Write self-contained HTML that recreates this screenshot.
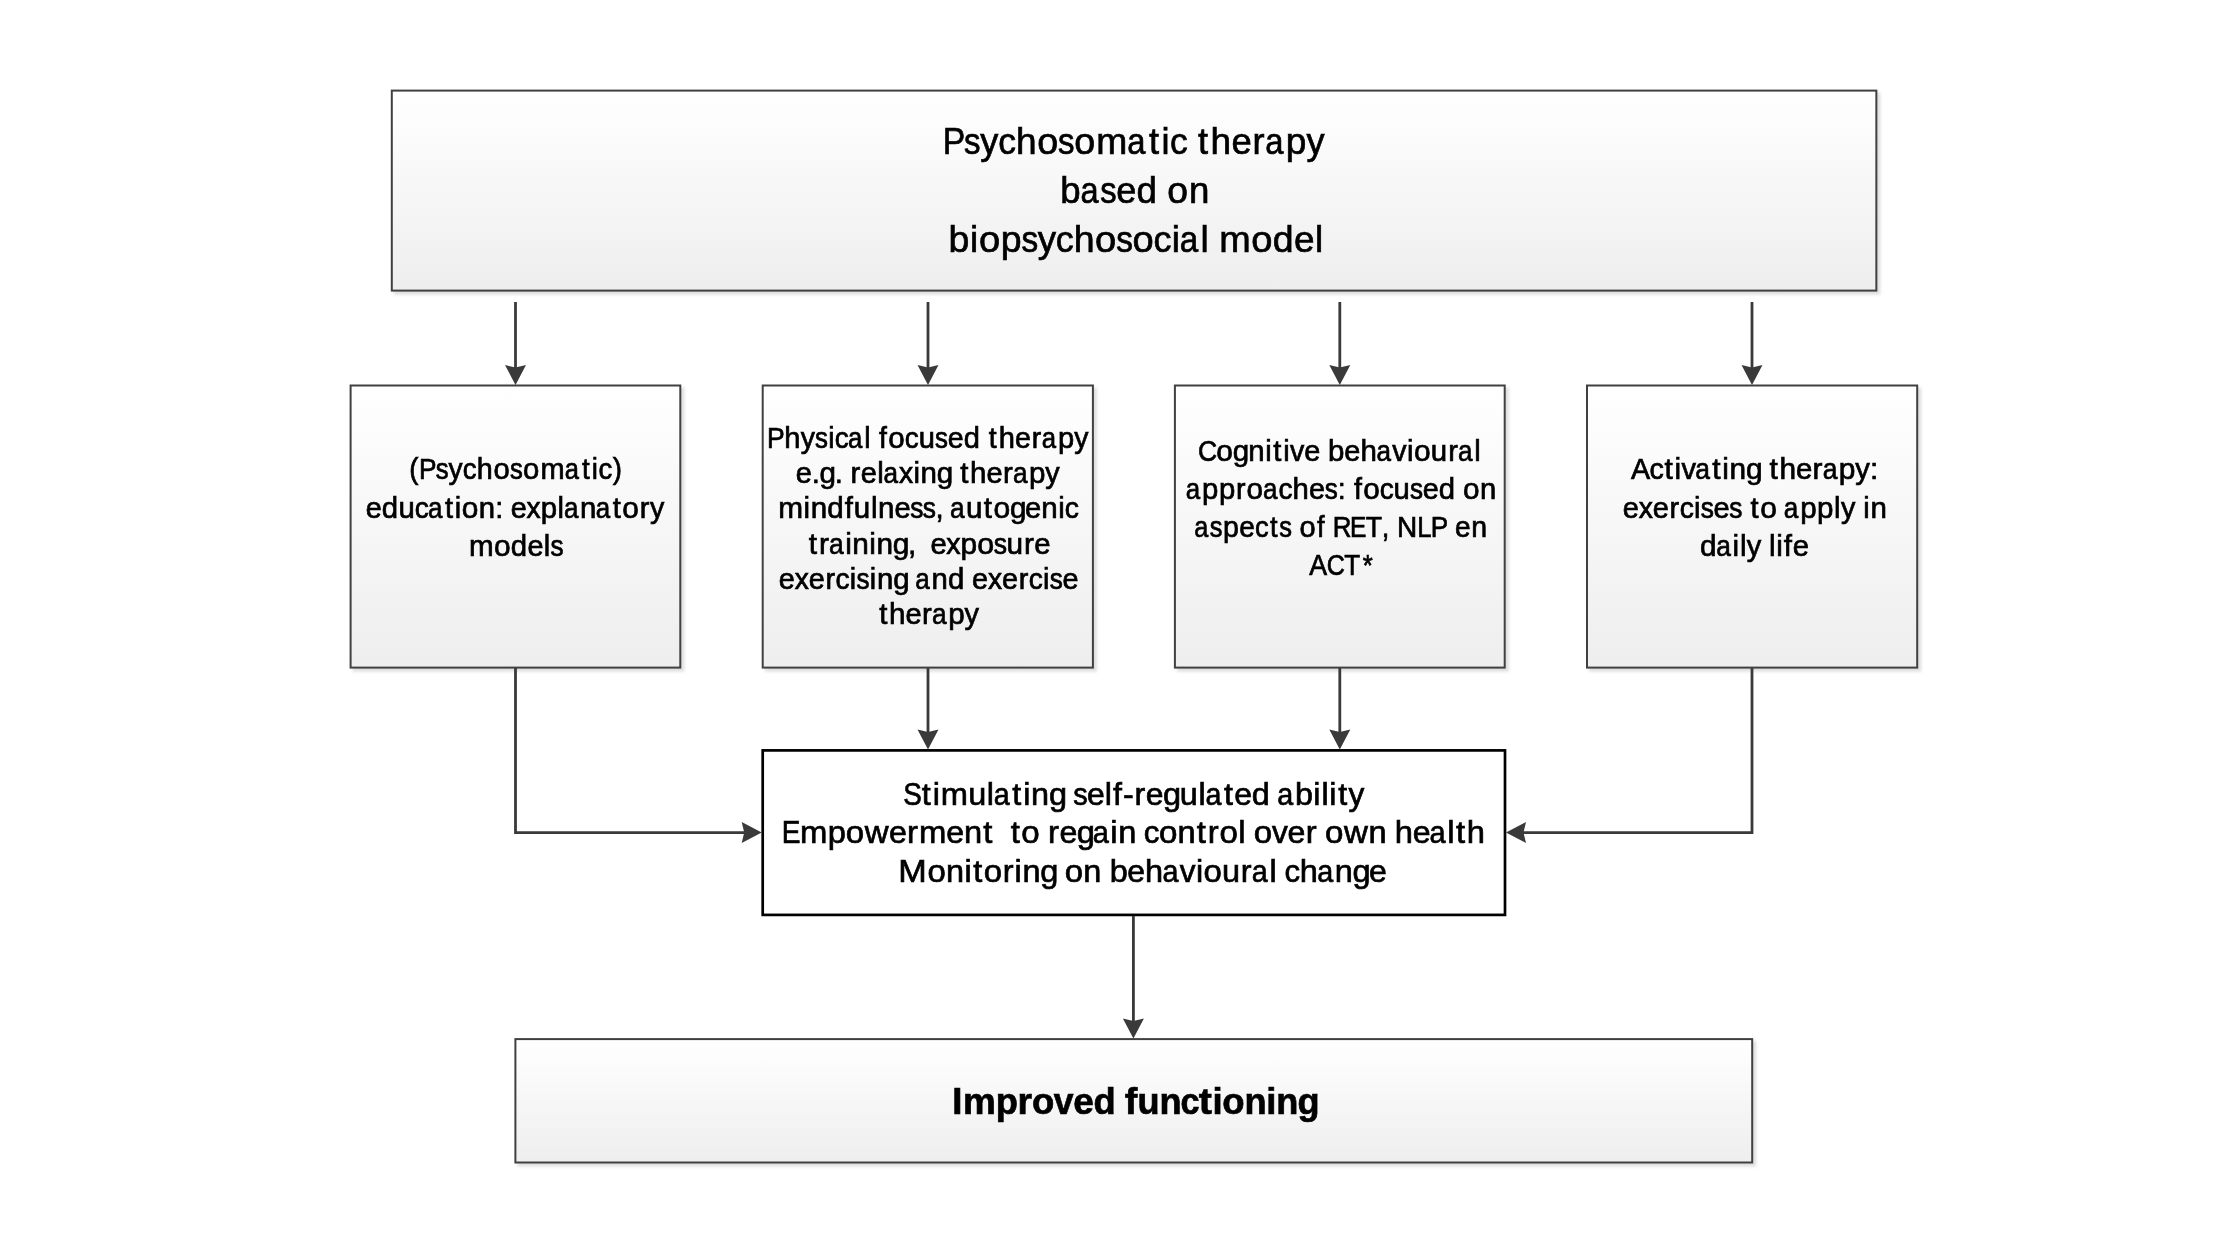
<!DOCTYPE html>
<html><head><meta charset="utf-8"><title>Psychosomatic therapy diagram</title><style>
html,body{margin:0;padding:0;background:#fff;}
body{width:2216px;height:1247px;overflow:hidden;}
svg{display:block;will-change:transform;}
text{font-family:"Liberation Sans",sans-serif;fill:#000;font-kerning:none;font-variant-ligatures:none;white-space:pre;stroke:#000;stroke-width:0.70px;}
</style></head><body>
<svg width="2216" height="1247" viewBox="0 0 2216 1247">
<defs>
<linearGradient id="g" x1="0" y1="0" x2="0" y2="1">
<stop offset="0" stop-color="#ffffff"/><stop offset="1" stop-color="#eeeeee"/>
</linearGradient>
<filter id="blur" x="-5%" y="-5%" width="110%" height="110%"><feGaussianBlur stdDeviation="1.5"/></filter>
</defs>
<rect x="393.80" y="92.60" width="1486.55" height="202.00" fill="#000" fill-opacity="0.13" filter="url(#blur)"/>
<rect x="391.80" y="90.60" width="1484.55" height="200.00" fill="url(#g)" stroke="#404040" stroke-width="2.00"/>
<rect x="352.60" y="387.50" width="331.70" height="284.10" fill="#000" fill-opacity="0.13" filter="url(#blur)"/>
<rect x="350.60" y="385.50" width="329.70" height="282.10" fill="url(#g)" stroke="#404040" stroke-width="2.00"/>
<rect x="764.70" y="387.50" width="332.20" height="284.10" fill="#000" fill-opacity="0.13" filter="url(#blur)"/>
<rect x="762.70" y="385.50" width="330.20" height="282.10" fill="url(#g)" stroke="#404040" stroke-width="2.00"/>
<rect x="1176.90" y="387.50" width="331.80" height="284.10" fill="#000" fill-opacity="0.13" filter="url(#blur)"/>
<rect x="1174.90" y="385.50" width="329.80" height="282.10" fill="url(#g)" stroke="#404040" stroke-width="2.00"/>
<rect x="1589.00" y="387.50" width="332.20" height="284.10" fill="#000" fill-opacity="0.13" filter="url(#blur)"/>
<rect x="1587.00" y="385.50" width="330.20" height="282.10" fill="url(#g)" stroke="#404040" stroke-width="2.00"/>
<rect x="762.70" y="750.40" width="742.30" height="164.50" fill="#ffffff" stroke="#000000" stroke-width="2.70"/>
<rect x="517.40" y="1041.10" width="1238.80" height="125.40" fill="#000" fill-opacity="0.13" filter="url(#blur)"/>
<rect x="515.40" y="1039.10" width="1236.80" height="123.40" fill="url(#g)" stroke="#404040" stroke-width="2.00"/>
<path d="M515.50 302.00 L515.50 368.00" fill="none" stroke="#3a3a3a" stroke-width="2.8"/>
<polygon points="515.50,385.00 505.00,365.00 515.50,367.50 526.00,365.00" fill="#3a3a3a"/>
<path d="M928.00 302.00 L928.00 368.00" fill="none" stroke="#3a3a3a" stroke-width="2.8"/>
<polygon points="928.00,385.00 917.50,365.00 928.00,367.50 938.50,365.00" fill="#3a3a3a"/>
<path d="M1339.80 302.00 L1339.80 368.00" fill="none" stroke="#3a3a3a" stroke-width="2.8"/>
<polygon points="1339.80,385.00 1329.30,365.00 1339.80,367.50 1350.30,365.00" fill="#3a3a3a"/>
<path d="M1752.00 302.00 L1752.00 368.00" fill="none" stroke="#3a3a3a" stroke-width="2.8"/>
<polygon points="1752.00,385.00 1741.50,365.00 1752.00,367.50 1762.50,365.00" fill="#3a3a3a"/>
<path d="M928.00 668.00 L928.00 732.50" fill="none" stroke="#3a3a3a" stroke-width="2.8"/>
<polygon points="928.00,749.50 917.50,729.50 928.00,732.00 938.50,729.50" fill="#3a3a3a"/>
<path d="M1339.80 668.00 L1339.80 732.50" fill="none" stroke="#3a3a3a" stroke-width="2.8"/>
<polygon points="1339.80,749.50 1329.30,729.50 1339.80,732.00 1350.30,729.50" fill="#3a3a3a"/>
<path d="M515.50 668.00 L515.50 832.60 L744.70 832.60" fill="none" stroke="#3a3a3a" stroke-width="2.8"/>
<polygon points="761.70,832.60 741.70,822.10 744.20,832.60 741.70,843.10" fill="#3a3a3a"/>
<path d="M1752.00 668.00 L1752.00 832.60 L1523.00 832.60" fill="none" stroke="#3a3a3a" stroke-width="2.8"/>
<polygon points="1506.00,832.60 1526.00,822.10 1523.50,832.60 1526.00,843.10" fill="#3a3a3a"/>
<path d="M1133.40 916.00 L1133.40 1021.50" fill="none" stroke="#3a3a3a" stroke-width="2.8"/>
<polygon points="1133.40,1038.50 1122.90,1018.50 1133.40,1021.00 1143.90,1018.50" fill="#3a3a3a"/>
<text y="154.30" font-size="37.50"><tspan x="942.83" textLength="22.52" lengthAdjust="spacingAndGlyphs">P</tspan><tspan x="964.07" textLength="16.49" lengthAdjust="spacingAndGlyphs">s</tspan><tspan x="980.20" textLength="18.06" lengthAdjust="spacingAndGlyphs">y</tspan><tspan x="998.15" textLength="17.74" lengthAdjust="spacingAndGlyphs">c</tspan><tspan x="1016.03" textLength="20.60" lengthAdjust="spacingAndGlyphs">h</tspan><tspan x="1037.13" textLength="20.89" lengthAdjust="spacingAndGlyphs">o</tspan><tspan x="1058.10" textLength="16.49" lengthAdjust="spacingAndGlyphs">s</tspan><tspan x="1074.37" textLength="20.89" lengthAdjust="spacingAndGlyphs">o</tspan><tspan x="1096.33" textLength="31.04" lengthAdjust="spacingAndGlyphs">m</tspan><tspan x="1127.37" textLength="18.24" lengthAdjust="spacingAndGlyphs">a</tspan><tspan x="1148.92" textLength="10.06" lengthAdjust="spacingAndGlyphs">t</tspan><tspan x="1161.51" textLength="8.04" lengthAdjust="spacingAndGlyphs">i</tspan><tspan x="1169.91" textLength="17.74" lengthAdjust="spacingAndGlyphs">c</tspan> <tspan x="1198.11" textLength="10.06" lengthAdjust="spacingAndGlyphs">t</tspan><tspan x="1210.54" textLength="20.60" lengthAdjust="spacingAndGlyphs">h</tspan><tspan x="1231.39" textLength="20.27" lengthAdjust="spacingAndGlyphs">e</tspan><tspan x="1252.61" textLength="12.05" lengthAdjust="spacingAndGlyphs">r</tspan><tspan x="1265.18" textLength="18.24" lengthAdjust="spacingAndGlyphs">a</tspan><tspan x="1285.72" textLength="20.60" lengthAdjust="spacingAndGlyphs">p</tspan><tspan x="1306.53" textLength="18.06" lengthAdjust="spacingAndGlyphs">y</tspan></text>
<text y="203.10" font-size="37.50"><tspan x="1060.31" textLength="20.38" lengthAdjust="spacingAndGlyphs">b</tspan><tspan x="1080.47" textLength="18.08" lengthAdjust="spacingAndGlyphs">a</tspan><tspan x="1100.25" textLength="16.35" lengthAdjust="spacingAndGlyphs">s</tspan><tspan x="1116.31" textLength="20.09" lengthAdjust="spacingAndGlyphs">e</tspan><tspan x="1136.61" textLength="20.38" lengthAdjust="spacingAndGlyphs">d</tspan> <tspan x="1167.28" textLength="20.71" lengthAdjust="spacingAndGlyphs">o</tspan><tspan x="1188.93" textLength="20.39" lengthAdjust="spacingAndGlyphs">n</tspan></text>
<text y="252.30" font-size="37.50"><tspan x="948.61" textLength="20.83" lengthAdjust="spacingAndGlyphs">b</tspan><tspan x="970.02" textLength="8.20" lengthAdjust="spacingAndGlyphs">i</tspan><tspan x="978.99" textLength="21.16" lengthAdjust="spacingAndGlyphs">o</tspan><tspan x="1000.86" textLength="20.87" lengthAdjust="spacingAndGlyphs">p</tspan><tspan x="1021.53" textLength="16.71" lengthAdjust="spacingAndGlyphs">s</tspan><tspan x="1037.76" textLength="18.29" lengthAdjust="spacingAndGlyphs">y</tspan><tspan x="1055.82" textLength="17.96" lengthAdjust="spacingAndGlyphs">c</tspan><tspan x="1073.80" textLength="20.87" lengthAdjust="spacingAndGlyphs">h</tspan><tspan x="1095.03" textLength="21.16" lengthAdjust="spacingAndGlyphs">o</tspan><tspan x="1116.13" textLength="16.71" lengthAdjust="spacingAndGlyphs">s</tspan><tspan x="1132.49" textLength="21.16" lengthAdjust="spacingAndGlyphs">o</tspan><tspan x="1153.46" textLength="17.96" lengthAdjust="spacingAndGlyphs">c</tspan><tspan x="1171.63" textLength="8.20" lengthAdjust="spacingAndGlyphs">i</tspan><tspan x="1179.84" textLength="18.48" lengthAdjust="spacingAndGlyphs">a</tspan><tspan x="1200.54" textLength="8.20" lengthAdjust="spacingAndGlyphs">l</tspan> <tspan x="1219.27" textLength="31.45" lengthAdjust="spacingAndGlyphs">m</tspan><tspan x="1251.31" textLength="21.16" lengthAdjust="spacingAndGlyphs">o</tspan><tspan x="1272.67" textLength="20.83" lengthAdjust="spacingAndGlyphs">d</tspan><tspan x="1294.00" textLength="20.53" lengthAdjust="spacingAndGlyphs">e</tspan><tspan x="1314.94" textLength="8.20" lengthAdjust="spacingAndGlyphs">l</tspan></text>
<text y="479.10" font-size="29.60"><tspan x="409.30" textLength="9.21" lengthAdjust="spacingAndGlyphs">(</tspan><tspan x="418.96" textLength="17.51" lengthAdjust="spacingAndGlyphs">P</tspan><tspan x="435.71" textLength="12.82" lengthAdjust="spacingAndGlyphs">s</tspan><tspan x="448.48" textLength="14.03" lengthAdjust="spacingAndGlyphs">y</tspan><tspan x="462.67" textLength="13.78" lengthAdjust="spacingAndGlyphs">c</tspan><tspan x="476.82" textLength="16.01" lengthAdjust="spacingAndGlyphs">h</tspan><tspan x="493.51" textLength="16.24" lengthAdjust="spacingAndGlyphs">o</tspan><tspan x="510.05" textLength="12.82" lengthAdjust="spacingAndGlyphs">s</tspan><tspan x="522.95" textLength="16.24" lengthAdjust="spacingAndGlyphs">o</tspan><tspan x="540.38" textLength="24.13" lengthAdjust="spacingAndGlyphs">m</tspan><tspan x="564.84" textLength="14.18" lengthAdjust="spacingAndGlyphs">a</tspan><tspan x="581.88" textLength="7.68" lengthAdjust="spacingAndGlyphs">t</tspan><tspan x="591.81" textLength="6.14" lengthAdjust="spacingAndGlyphs">i</tspan><tspan x="598.46" textLength="13.78" lengthAdjust="spacingAndGlyphs">c</tspan><tspan x="612.79" textLength="9.21" lengthAdjust="spacingAndGlyphs">)</tspan></text>
<text y="517.90" font-size="29.60"><tspan x="365.85" textLength="16.06" lengthAdjust="spacingAndGlyphs">e</tspan><tspan x="381.73" textLength="16.29" lengthAdjust="spacingAndGlyphs">d</tspan><tspan x="398.54" textLength="16.30" lengthAdjust="spacingAndGlyphs">u</tspan><tspan x="414.83" textLength="14.05" lengthAdjust="spacingAndGlyphs">c</tspan><tspan x="428.08" textLength="14.45" lengthAdjust="spacingAndGlyphs">a</tspan><tspan x="444.96" textLength="8.06" lengthAdjust="spacingAndGlyphs">t</tspan><tspan x="454.84" textLength="6.44" lengthAdjust="spacingAndGlyphs">i</tspan><tspan x="461.83" textLength="16.56" lengthAdjust="spacingAndGlyphs">o</tspan><tspan x="478.78" textLength="16.30" lengthAdjust="spacingAndGlyphs">n</tspan><tspan x="495.33" textLength="8.06" lengthAdjust="spacingAndGlyphs">:</tspan> <tspan x="510.77" textLength="16.06" lengthAdjust="spacingAndGlyphs">e</tspan><tspan x="526.51" textLength="14.07" lengthAdjust="spacingAndGlyphs">x</tspan><tspan x="540.81" textLength="16.32" lengthAdjust="spacingAndGlyphs">p</tspan><tspan x="557.55" textLength="6.44" lengthAdjust="spacingAndGlyphs">l</tspan><tspan x="563.93" textLength="14.45" lengthAdjust="spacingAndGlyphs">a</tspan><tspan x="579.93" textLength="16.30" lengthAdjust="spacingAndGlyphs">n</tspan><tspan x="595.84" textLength="14.45" lengthAdjust="spacingAndGlyphs">a</tspan><tspan x="612.72" textLength="8.06" lengthAdjust="spacingAndGlyphs">t</tspan><tspan x="622.30" textLength="16.56" lengthAdjust="spacingAndGlyphs">o</tspan><tspan x="639.65" textLength="9.66" lengthAdjust="spacingAndGlyphs">r</tspan><tspan x="650.04" textLength="14.31" lengthAdjust="spacingAndGlyphs">y</tspan></text>
<text y="556.20" font-size="29.60"><tspan x="468.91" textLength="24.65" lengthAdjust="spacingAndGlyphs">m</tspan><tspan x="494.00" textLength="16.59" lengthAdjust="spacingAndGlyphs">o</tspan><tspan x="510.74" textLength="16.33" lengthAdjust="spacingAndGlyphs">d</tspan><tspan x="527.45" textLength="16.09" lengthAdjust="spacingAndGlyphs">e</tspan><tspan x="543.85" textLength="6.43" lengthAdjust="spacingAndGlyphs">l</tspan><tspan x="550.55" textLength="13.09" lengthAdjust="spacingAndGlyphs">s</tspan></text>
<text y="447.76" font-size="29.60"><tspan x="767.07" textLength="17.69" lengthAdjust="spacingAndGlyphs">P</tspan><tspan x="784.28" textLength="16.18" lengthAdjust="spacingAndGlyphs">h</tspan><tspan x="800.79" textLength="14.18" lengthAdjust="spacingAndGlyphs">y</tspan><tspan x="815.03" textLength="12.95" lengthAdjust="spacingAndGlyphs">s</tspan><tspan x="828.13" textLength="6.30" lengthAdjust="spacingAndGlyphs">i</tspan><tspan x="834.75" textLength="13.93" lengthAdjust="spacingAndGlyphs">c</tspan><tspan x="848.08" textLength="14.33" lengthAdjust="spacingAndGlyphs">a</tspan><tspan x="864.28" textLength="6.30" lengthAdjust="spacingAndGlyphs">l</tspan> <tspan x="879.11" textLength="7.88" lengthAdjust="spacingAndGlyphs">f</tspan><tspan x="888.28" textLength="16.41" lengthAdjust="spacingAndGlyphs">o</tspan><tspan x="904.70" textLength="13.93" lengthAdjust="spacingAndGlyphs">c</tspan><tspan x="918.63" textLength="16.16" lengthAdjust="spacingAndGlyphs">u</tspan><tspan x="935.08" textLength="12.95" lengthAdjust="spacingAndGlyphs">s</tspan><tspan x="947.71" textLength="15.92" lengthAdjust="spacingAndGlyphs">e</tspan><tspan x="963.67" textLength="16.15" lengthAdjust="spacingAndGlyphs">d</tspan> <tspan x="988.86" textLength="7.88" lengthAdjust="spacingAndGlyphs">t</tspan><tspan x="998.65" textLength="16.18" lengthAdjust="spacingAndGlyphs">h</tspan><tspan x="1015.08" textLength="15.92" lengthAdjust="spacingAndGlyphs">e</tspan><tspan x="1031.80" textLength="9.44" lengthAdjust="spacingAndGlyphs">r</tspan><tspan x="1041.70" textLength="14.33" lengthAdjust="spacingAndGlyphs">a</tspan><tspan x="1057.88" textLength="16.18" lengthAdjust="spacingAndGlyphs">p</tspan><tspan x="1074.27" textLength="14.18" lengthAdjust="spacingAndGlyphs">y</tspan></text>
<text y="483.09" font-size="29.60"><tspan x="795.80" textLength="16.16" lengthAdjust="spacingAndGlyphs">e</tspan><tspan x="811.66" textLength="8.15" lengthAdjust="spacingAndGlyphs">.</tspan><tspan x="819.57" textLength="16.45" lengthAdjust="spacingAndGlyphs">g</tspan><tspan x="834.64" textLength="8.15" lengthAdjust="spacingAndGlyphs">.</tspan> <tspan x="850.55" textLength="9.77" lengthAdjust="spacingAndGlyphs">r</tspan><tspan x="860.86" textLength="16.16" lengthAdjust="spacingAndGlyphs">e</tspan><tspan x="877.19" textLength="6.52" lengthAdjust="spacingAndGlyphs">l</tspan><tspan x="883.56" textLength="14.54" lengthAdjust="spacingAndGlyphs">a</tspan><tspan x="899.12" textLength="14.15" lengthAdjust="spacingAndGlyphs">x</tspan><tspan x="913.45" textLength="6.52" lengthAdjust="spacingAndGlyphs">i</tspan><tspan x="920.62" textLength="16.40" lengthAdjust="spacingAndGlyphs">n</tspan><tspan x="936.87" textLength="16.45" lengthAdjust="spacingAndGlyphs">g</tspan> <tspan x="960.32" textLength="8.15" lengthAdjust="spacingAndGlyphs">t</tspan><tspan x="970.06" textLength="16.42" lengthAdjust="spacingAndGlyphs">h</tspan><tspan x="986.40" textLength="16.16" lengthAdjust="spacingAndGlyphs">e</tspan><tspan x="1002.97" textLength="9.77" lengthAdjust="spacingAndGlyphs">r</tspan><tspan x="1012.88" textLength="14.54" lengthAdjust="spacingAndGlyphs">a</tspan><tspan x="1028.97" textLength="16.42" lengthAdjust="spacingAndGlyphs">p</tspan><tspan x="1045.30" textLength="14.39" lengthAdjust="spacingAndGlyphs">y</tspan></text>
<text y="518.42" font-size="29.60"><tspan x="778.17" textLength="24.80" lengthAdjust="spacingAndGlyphs">m</tspan><tspan x="803.58" textLength="6.52" lengthAdjust="spacingAndGlyphs">i</tspan><tspan x="810.77" textLength="16.43" lengthAdjust="spacingAndGlyphs">n</tspan><tspan x="827.23" textLength="16.43" lengthAdjust="spacingAndGlyphs">d</tspan><tspan x="844.67" textLength="8.16" lengthAdjust="spacingAndGlyphs">f</tspan><tspan x="853.84" textLength="16.43" lengthAdjust="spacingAndGlyphs">u</tspan><tspan x="870.92" textLength="6.52" lengthAdjust="spacingAndGlyphs">l</tspan><tspan x="878.11" textLength="16.43" lengthAdjust="spacingAndGlyphs">n</tspan><tspan x="894.49" textLength="16.19" lengthAdjust="spacingAndGlyphs">e</tspan><tspan x="910.26" textLength="13.18" lengthAdjust="spacingAndGlyphs">s</tspan><tspan x="922.73" textLength="13.18" lengthAdjust="spacingAndGlyphs">s</tspan><tspan x="935.38" textLength="8.16" lengthAdjust="spacingAndGlyphs">,</tspan> <tspan x="950.08" textLength="14.57" lengthAdjust="spacingAndGlyphs">a</tspan><tspan x="965.96" textLength="16.43" lengthAdjust="spacingAndGlyphs">u</tspan><tspan x="983.79" textLength="8.16" lengthAdjust="spacingAndGlyphs">t</tspan><tspan x="993.40" textLength="16.69" lengthAdjust="spacingAndGlyphs">o</tspan><tspan x="1009.98" textLength="16.49" lengthAdjust="spacingAndGlyphs">g</tspan><tspan x="1025.05" textLength="16.19" lengthAdjust="spacingAndGlyphs">e</tspan><tspan x="1041.31" textLength="16.43" lengthAdjust="spacingAndGlyphs">n</tspan><tspan x="1058.19" textLength="6.52" lengthAdjust="spacingAndGlyphs">i</tspan><tspan x="1064.79" textLength="14.17" lengthAdjust="spacingAndGlyphs">c</tspan></text>
<text y="553.75" font-size="29.60"><tspan x="808.75" textLength="8.28" lengthAdjust="spacingAndGlyphs">t</tspan><tspan x="818.96" textLength="9.92" lengthAdjust="spacingAndGlyphs">r</tspan><tspan x="828.94" textLength="14.70" lengthAdjust="spacingAndGlyphs">a</tspan><tspan x="845.18" textLength="6.62" lengthAdjust="spacingAndGlyphs">i</tspan><tspan x="852.38" textLength="16.57" lengthAdjust="spacingAndGlyphs">n</tspan><tspan x="869.31" textLength="6.62" lengthAdjust="spacingAndGlyphs">i</tspan><tspan x="876.52" textLength="16.57" lengthAdjust="spacingAndGlyphs">n</tspan><tspan x="892.87" textLength="16.63" lengthAdjust="spacingAndGlyphs">g</tspan><tspan x="908.04" textLength="8.28" lengthAdjust="spacingAndGlyphs">,</tspan>  <tspan x="930.41" textLength="16.33" lengthAdjust="spacingAndGlyphs">e</tspan><tspan x="946.26" textLength="14.30" lengthAdjust="spacingAndGlyphs">x</tspan><tspan x="960.63" textLength="16.60" lengthAdjust="spacingAndGlyphs">p</tspan><tspan x="977.15" textLength="16.84" lengthAdjust="spacingAndGlyphs">o</tspan><tspan x="993.73" textLength="13.29" lengthAdjust="spacingAndGlyphs">s</tspan><tspan x="1006.52" textLength="16.57" lengthAdjust="spacingAndGlyphs">u</tspan><tspan x="1023.88" textLength="9.92" lengthAdjust="spacingAndGlyphs">r</tspan><tspan x="1034.27" textLength="16.33" lengthAdjust="spacingAndGlyphs">e</tspan></text>
<text y="589.08" font-size="29.60"><tspan x="778.80" textLength="16.07" lengthAdjust="spacingAndGlyphs">e</tspan><tspan x="794.68" textLength="14.07" lengthAdjust="spacingAndGlyphs">x</tspan><tspan x="808.64" textLength="16.07" lengthAdjust="spacingAndGlyphs">e</tspan><tspan x="825.41" textLength="9.58" lengthAdjust="spacingAndGlyphs">r</tspan><tspan x="835.54" textLength="14.06" lengthAdjust="spacingAndGlyphs">c</tspan><tspan x="849.82" textLength="6.39" lengthAdjust="spacingAndGlyphs">i</tspan><tspan x="856.56" textLength="13.07" lengthAdjust="spacingAndGlyphs">s</tspan><tspan x="869.72" textLength="6.39" lengthAdjust="spacingAndGlyphs">i</tspan><tspan x="876.97" textLength="16.30" lengthAdjust="spacingAndGlyphs">n</tspan><tspan x="893.37" textLength="16.36" lengthAdjust="spacingAndGlyphs">g</tspan> <tspan x="915.36" textLength="14.46" lengthAdjust="spacingAndGlyphs">a</tspan><tspan x="931.51" textLength="16.30" lengthAdjust="spacingAndGlyphs">n</tspan><tspan x="948.05" textLength="16.30" lengthAdjust="spacingAndGlyphs">d</tspan> <tspan x="972.06" textLength="16.07" lengthAdjust="spacingAndGlyphs">e</tspan><tspan x="987.94" textLength="14.07" lengthAdjust="spacingAndGlyphs">x</tspan><tspan x="1001.90" textLength="16.07" lengthAdjust="spacingAndGlyphs">e</tspan><tspan x="1018.67" textLength="9.58" lengthAdjust="spacingAndGlyphs">r</tspan><tspan x="1028.80" textLength="14.06" lengthAdjust="spacingAndGlyphs">c</tspan><tspan x="1043.08" textLength="6.39" lengthAdjust="spacingAndGlyphs">i</tspan><tspan x="1049.82" textLength="13.07" lengthAdjust="spacingAndGlyphs">s</tspan><tspan x="1062.48" textLength="16.07" lengthAdjust="spacingAndGlyphs">e</tspan></text>
<text y="624.41" font-size="29.60"><tspan x="879.15" textLength="8.15" lengthAdjust="spacingAndGlyphs">t</tspan><tspan x="888.94" textLength="16.47" lengthAdjust="spacingAndGlyphs">h</tspan><tspan x="905.38" textLength="16.20" lengthAdjust="spacingAndGlyphs">e</tspan><tspan x="922.05" textLength="9.77" lengthAdjust="spacingAndGlyphs">r</tspan><tspan x="932.01" textLength="14.58" lengthAdjust="spacingAndGlyphs">a</tspan><tspan x="948.18" textLength="16.46" lengthAdjust="spacingAndGlyphs">p</tspan><tspan x="964.60" textLength="14.43" lengthAdjust="spacingAndGlyphs">y</tspan></text>
<text y="460.80" font-size="29.60"><tspan x="1198.11" textLength="19.17" lengthAdjust="spacingAndGlyphs">C</tspan><tspan x="1216.26" textLength="16.62" lengthAdjust="spacingAndGlyphs">o</tspan><tspan x="1232.82" textLength="16.41" lengthAdjust="spacingAndGlyphs">g</tspan><tspan x="1248.28" textLength="16.36" lengthAdjust="spacingAndGlyphs">n</tspan><tspan x="1265.15" textLength="6.47" lengthAdjust="spacingAndGlyphs">i</tspan><tspan x="1273.23" textLength="8.09" lengthAdjust="spacingAndGlyphs">t</tspan><tspan x="1283.15" textLength="6.47" lengthAdjust="spacingAndGlyphs">i</tspan><tspan x="1290.12" textLength="14.28" lengthAdjust="spacingAndGlyphs">v</tspan><tspan x="1304.37" textLength="16.12" lengthAdjust="spacingAndGlyphs">e</tspan> <tspan x="1327.95" textLength="16.35" lengthAdjust="spacingAndGlyphs">b</tspan><tspan x="1344.20" textLength="16.12" lengthAdjust="spacingAndGlyphs">e</tspan><tspan x="1360.42" textLength="16.39" lengthAdjust="spacingAndGlyphs">h</tspan><tspan x="1376.42" textLength="14.51" lengthAdjust="spacingAndGlyphs">a</tspan><tspan x="1392.25" textLength="14.28" lengthAdjust="spacingAndGlyphs">v</tspan><tspan x="1407.00" textLength="6.47" lengthAdjust="spacingAndGlyphs">i</tspan><tspan x="1414.01" textLength="16.62" lengthAdjust="spacingAndGlyphs">o</tspan><tspan x="1430.83" textLength="16.36" lengthAdjust="spacingAndGlyphs">u</tspan><tspan x="1448.17" textLength="9.69" lengthAdjust="spacingAndGlyphs">r</tspan><tspan x="1458.10" textLength="14.51" lengthAdjust="spacingAndGlyphs">a</tspan><tspan x="1474.29" textLength="6.47" lengthAdjust="spacingAndGlyphs">l</tspan></text>
<text y="498.90" font-size="29.60"><tspan x="1185.87" textLength="14.42" lengthAdjust="spacingAndGlyphs">a</tspan><tspan x="1202.08" textLength="16.29" lengthAdjust="spacingAndGlyphs">p</tspan><tspan x="1218.90" textLength="16.29" lengthAdjust="spacingAndGlyphs">p</tspan><tspan x="1236.07" textLength="9.54" lengthAdjust="spacingAndGlyphs">r</tspan><tspan x="1246.60" textLength="16.52" lengthAdjust="spacingAndGlyphs">o</tspan><tspan x="1262.88" textLength="14.42" lengthAdjust="spacingAndGlyphs">a</tspan><tspan x="1278.39" textLength="14.02" lengthAdjust="spacingAndGlyphs">c</tspan><tspan x="1292.51" textLength="16.29" lengthAdjust="spacingAndGlyphs">h</tspan><tspan x="1308.98" textLength="16.03" lengthAdjust="spacingAndGlyphs">e</tspan><tspan x="1324.78" textLength="13.04" lengthAdjust="spacingAndGlyphs">s</tspan><tspan x="1337.67" textLength="7.96" lengthAdjust="spacingAndGlyphs">:</tspan> <tspan x="1354.00" textLength="7.96" lengthAdjust="spacingAndGlyphs">f</tspan><tspan x="1363.19" textLength="16.52" lengthAdjust="spacingAndGlyphs">o</tspan><tspan x="1379.65" textLength="14.02" lengthAdjust="spacingAndGlyphs">c</tspan><tspan x="1393.61" textLength="16.26" lengthAdjust="spacingAndGlyphs">u</tspan><tspan x="1410.10" textLength="13.04" lengthAdjust="spacingAndGlyphs">s</tspan><tspan x="1422.75" textLength="16.03" lengthAdjust="spacingAndGlyphs">e</tspan><tspan x="1438.76" textLength="16.26" lengthAdjust="spacingAndGlyphs">d</tspan> <tspan x="1462.93" textLength="16.52" lengthAdjust="spacingAndGlyphs">o</tspan><tspan x="1480.01" textLength="16.26" lengthAdjust="spacingAndGlyphs">n</tspan></text>
<text y="537.10" font-size="29.60"><tspan x="1194.16" textLength="14.06" lengthAdjust="spacingAndGlyphs">a</tspan><tspan x="1209.75" textLength="12.72" lengthAdjust="spacingAndGlyphs">s</tspan><tspan x="1222.94" textLength="15.88" lengthAdjust="spacingAndGlyphs">p</tspan><tspan x="1239.28" textLength="15.63" lengthAdjust="spacingAndGlyphs">e</tspan><tspan x="1254.97" textLength="13.67" lengthAdjust="spacingAndGlyphs">c</tspan><tspan x="1270.03" textLength="7.57" lengthAdjust="spacingAndGlyphs">t</tspan><tspan x="1279.32" textLength="12.72" lengthAdjust="spacingAndGlyphs">s</tspan> <tspan x="1299.46" textLength="16.11" lengthAdjust="spacingAndGlyphs">o</tspan><tspan x="1316.93" textLength="7.57" lengthAdjust="spacingAndGlyphs">f</tspan> <tspan x="1332.78" textLength="18.70" lengthAdjust="spacingAndGlyphs">R</tspan><tspan x="1349.97" textLength="16.40" lengthAdjust="spacingAndGlyphs">E</tspan><tspan x="1365.65" textLength="16.34" lengthAdjust="spacingAndGlyphs">T</tspan><tspan x="1381.87" textLength="7.57" lengthAdjust="spacingAndGlyphs">,</tspan> <tspan x="1397.09" textLength="20.20" lengthAdjust="spacingAndGlyphs">N</tspan><tspan x="1417.27" textLength="14.35" lengthAdjust="spacingAndGlyphs">L</tspan><tspan x="1430.86" textLength="17.37" lengthAdjust="spacingAndGlyphs">P</tspan> <tspan x="1454.98" textLength="15.63" lengthAdjust="spacingAndGlyphs">e</tspan><tspan x="1471.31" textLength="15.86" lengthAdjust="spacingAndGlyphs">n</tspan></text>
<text y="575.40" font-size="29.60"><tspan x="1309.18" textLength="17.82" lengthAdjust="spacingAndGlyphs">A</tspan><tspan x="1326.84" textLength="18.12" lengthAdjust="spacingAndGlyphs">C</tspan><tspan x="1344.19" textLength="15.93" lengthAdjust="spacingAndGlyphs">T</tspan><tspan x="1362.87" textLength="10.01" lengthAdjust="spacingAndGlyphs">*</tspan></text>
<text y="479.40" font-size="29.60"><tspan x="1630.98" textLength="19.14" lengthAdjust="spacingAndGlyphs">A</tspan><tspan x="1649.43" textLength="14.32" lengthAdjust="spacingAndGlyphs">c</tspan><tspan x="1664.46" textLength="8.29" lengthAdjust="spacingAndGlyphs">t</tspan><tspan x="1674.45" textLength="6.63" lengthAdjust="spacingAndGlyphs">i</tspan><tspan x="1681.45" textLength="14.49" lengthAdjust="spacingAndGlyphs">v</tspan><tspan x="1695.35" textLength="14.72" lengthAdjust="spacingAndGlyphs">a</tspan><tspan x="1712.37" textLength="8.29" lengthAdjust="spacingAndGlyphs">t</tspan><tspan x="1722.36" textLength="6.63" lengthAdjust="spacingAndGlyphs">i</tspan><tspan x="1729.58" textLength="16.60" lengthAdjust="spacingAndGlyphs">n</tspan><tspan x="1745.97" textLength="16.66" lengthAdjust="spacingAndGlyphs">g</tspan> <tspan x="1769.62" textLength="8.29" lengthAdjust="spacingAndGlyphs">t</tspan><tspan x="1779.44" textLength="16.63" lengthAdjust="spacingAndGlyphs">h</tspan><tspan x="1795.93" textLength="16.36" lengthAdjust="spacingAndGlyphs">e</tspan><tspan x="1812.63" textLength="9.94" lengthAdjust="spacingAndGlyphs">r</tspan><tspan x="1822.64" textLength="14.72" lengthAdjust="spacingAndGlyphs">a</tspan><tspan x="1838.86" textLength="16.63" lengthAdjust="spacingAndGlyphs">p</tspan><tspan x="1855.33" textLength="14.57" lengthAdjust="spacingAndGlyphs">y</tspan><tspan x="1869.98" textLength="8.29" lengthAdjust="spacingAndGlyphs">:</tspan></text>
<text y="517.50" font-size="29.60"><tspan x="1622.78" textLength="16.16" lengthAdjust="spacingAndGlyphs">e</tspan><tspan x="1638.70" textLength="14.15" lengthAdjust="spacingAndGlyphs">x</tspan><tspan x="1652.70" textLength="16.16" lengthAdjust="spacingAndGlyphs">e</tspan><tspan x="1669.50" textLength="9.66" lengthAdjust="spacingAndGlyphs">r</tspan><tspan x="1679.67" textLength="14.14" lengthAdjust="spacingAndGlyphs">c</tspan><tspan x="1693.99" textLength="6.44" lengthAdjust="spacingAndGlyphs">i</tspan><tspan x="1700.75" textLength="13.15" lengthAdjust="spacingAndGlyphs">s</tspan><tspan x="1713.45" textLength="16.16" lengthAdjust="spacingAndGlyphs">e</tspan><tspan x="1729.32" textLength="13.15" lengthAdjust="spacingAndGlyphs">s</tspan> <tspan x="1750.55" textLength="8.06" lengthAdjust="spacingAndGlyphs">t</tspan><tspan x="1760.25" textLength="16.65" lengthAdjust="spacingAndGlyphs">o</tspan> <tspan x="1783.86" textLength="14.54" lengthAdjust="spacingAndGlyphs">a</tspan><tspan x="1800.15" textLength="16.42" lengthAdjust="spacingAndGlyphs">p</tspan><tspan x="1817.04" textLength="16.42" lengthAdjust="spacingAndGlyphs">p</tspan><tspan x="1833.96" textLength="6.44" lengthAdjust="spacingAndGlyphs">l</tspan><tspan x="1840.92" textLength="14.39" lengthAdjust="spacingAndGlyphs">y</tspan> <tspan x="1863.14" textLength="6.44" lengthAdjust="spacingAndGlyphs">i</tspan><tspan x="1870.41" textLength="16.40" lengthAdjust="spacingAndGlyphs">n</tspan></text>
<text y="556.40" font-size="29.60"><tspan x="1700.05" textLength="16.52" lengthAdjust="spacingAndGlyphs">d</tspan><tspan x="1716.35" textLength="14.65" lengthAdjust="spacingAndGlyphs">a</tspan><tspan x="1732.57" textLength="6.58" lengthAdjust="spacingAndGlyphs">i</tspan><tspan x="1739.91" textLength="6.58" lengthAdjust="spacingAndGlyphs">l</tspan><tspan x="1746.83" textLength="14.50" lengthAdjust="spacingAndGlyphs">y</tspan> <tspan x="1768.93" textLength="6.58" lengthAdjust="spacingAndGlyphs">l</tspan><tspan x="1776.25" textLength="6.58" lengthAdjust="spacingAndGlyphs">i</tspan><tspan x="1783.83" textLength="8.23" lengthAdjust="spacingAndGlyphs">f</tspan><tspan x="1792.82" textLength="16.28" lengthAdjust="spacingAndGlyphs">e</tspan></text>
<text y="805.20" font-size="32.20"><tspan x="903.14" textLength="18.59" lengthAdjust="spacingAndGlyphs">S</tspan><tspan x="921.80" textLength="8.96" lengthAdjust="spacingAndGlyphs">t</tspan><tspan x="932.66" textLength="7.17" lengthAdjust="spacingAndGlyphs">i</tspan><tspan x="940.73" textLength="27.18" lengthAdjust="spacingAndGlyphs">m</tspan><tspan x="968.17" textLength="18.01" lengthAdjust="spacingAndGlyphs">u</tspan><tspan x="986.85" textLength="7.17" lengthAdjust="spacingAndGlyphs">l</tspan><tspan x="993.85" textLength="15.97" lengthAdjust="spacingAndGlyphs">a</tspan><tspan x="1012.37" textLength="8.96" lengthAdjust="spacingAndGlyphs">t</tspan><tspan x="1023.23" textLength="7.17" lengthAdjust="spacingAndGlyphs">i</tspan><tspan x="1031.09" textLength="18.01" lengthAdjust="spacingAndGlyphs">n</tspan><tspan x="1048.93" textLength="18.07" lengthAdjust="spacingAndGlyphs">g</tspan> <tspan x="1073.18" textLength="14.44" lengthAdjust="spacingAndGlyphs">s</tspan><tspan x="1086.93" textLength="17.75" lengthAdjust="spacingAndGlyphs">e</tspan><tspan x="1104.85" textLength="7.17" lengthAdjust="spacingAndGlyphs">l</tspan><tspan x="1113.12" textLength="8.96" lengthAdjust="spacingAndGlyphs">f</tspan><tspan x="1123.06" textLength="10.74" lengthAdjust="spacingAndGlyphs">-</tspan><tspan x="1134.44" textLength="10.74" lengthAdjust="spacingAndGlyphs">r</tspan><tspan x="1145.76" textLength="17.75" lengthAdjust="spacingAndGlyphs">e</tspan><tspan x="1163.04" textLength="18.07" lengthAdjust="spacingAndGlyphs">g</tspan><tspan x="1179.73" textLength="18.01" lengthAdjust="spacingAndGlyphs">u</tspan><tspan x="1198.41" textLength="7.17" lengthAdjust="spacingAndGlyphs">l</tspan><tspan x="1205.40" textLength="15.97" lengthAdjust="spacingAndGlyphs">a</tspan><tspan x="1223.92" textLength="8.96" lengthAdjust="spacingAndGlyphs">t</tspan><tspan x="1234.23" textLength="17.75" lengthAdjust="spacingAndGlyphs">e</tspan><tspan x="1251.67" textLength="18.00" lengthAdjust="spacingAndGlyphs">d</tspan> <tspan x="1277.34" textLength="15.97" lengthAdjust="spacingAndGlyphs">a</tspan><tspan x="1295.04" textLength="18.00" lengthAdjust="spacingAndGlyphs">b</tspan><tspan x="1313.37" textLength="7.17" lengthAdjust="spacingAndGlyphs">i</tspan><tspan x="1321.38" textLength="7.17" lengthAdjust="spacingAndGlyphs">l</tspan><tspan x="1329.37" textLength="7.17" lengthAdjust="spacingAndGlyphs">i</tspan><tspan x="1338.19" textLength="8.96" lengthAdjust="spacingAndGlyphs">t</tspan><tspan x="1348.61" textLength="15.81" lengthAdjust="spacingAndGlyphs">y</tspan></text>
<text y="843.30" font-size="32.20"><tspan x="781.82" textLength="18.75" lengthAdjust="spacingAndGlyphs">E</tspan><tspan x="800.11" textLength="27.36" lengthAdjust="spacingAndGlyphs">m</tspan><tspan x="827.85" textLength="18.16" lengthAdjust="spacingAndGlyphs">p</tspan><tspan x="845.86" textLength="18.42" lengthAdjust="spacingAndGlyphs">o</tspan><tspan x="864.77" textLength="23.85" lengthAdjust="spacingAndGlyphs">w</tspan><tspan x="888.94" textLength="17.87" lengthAdjust="spacingAndGlyphs">e</tspan><tspan x="907.08" textLength="10.90" lengthAdjust="spacingAndGlyphs">r</tspan><tspan x="919.01" textLength="27.36" lengthAdjust="spacingAndGlyphs">m</tspan><tspan x="946.25" textLength="17.87" lengthAdjust="spacingAndGlyphs">e</tspan><tspan x="964.00" textLength="18.13" lengthAdjust="spacingAndGlyphs">n</tspan><tspan x="983.26" textLength="9.09" lengthAdjust="spacingAndGlyphs">t</tspan>  <tspan x="1010.69" textLength="9.09" lengthAdjust="spacingAndGlyphs">t</tspan><tspan x="1021.19" textLength="18.42" lengthAdjust="spacingAndGlyphs">o</tspan> <tspan x="1048.05" textLength="10.90" lengthAdjust="spacingAndGlyphs">r</tspan><tspan x="1059.39" textLength="17.87" lengthAdjust="spacingAndGlyphs">e</tspan><tspan x="1076.66" textLength="18.19" lengthAdjust="spacingAndGlyphs">g</tspan><tspan x="1092.68" textLength="16.08" lengthAdjust="spacingAndGlyphs">a</tspan><tspan x="1110.38" textLength="7.27" lengthAdjust="spacingAndGlyphs">i</tspan><tspan x="1118.22" textLength="18.13" lengthAdjust="spacingAndGlyphs">n</tspan> <tspan x="1143.76" textLength="15.63" lengthAdjust="spacingAndGlyphs">c</tspan><tspan x="1158.93" textLength="18.42" lengthAdjust="spacingAndGlyphs">o</tspan><tspan x="1177.51" textLength="18.13" lengthAdjust="spacingAndGlyphs">n</tspan><tspan x="1196.77" textLength="9.09" lengthAdjust="spacingAndGlyphs">t</tspan><tspan x="1207.88" textLength="10.90" lengthAdjust="spacingAndGlyphs">r</tspan><tspan x="1219.42" textLength="18.42" lengthAdjust="spacingAndGlyphs">o</tspan><tspan x="1238.17" textLength="7.27" lengthAdjust="spacingAndGlyphs">l</tspan> <tspan x="1253.67" textLength="18.42" lengthAdjust="spacingAndGlyphs">o</tspan><tspan x="1272.02" textLength="15.82" lengthAdjust="spacingAndGlyphs">v</tspan><tspan x="1287.58" textLength="17.87" lengthAdjust="spacingAndGlyphs">e</tspan><tspan x="1305.72" textLength="10.90" lengthAdjust="spacingAndGlyphs">r</tspan> <tspan x="1325.14" textLength="18.42" lengthAdjust="spacingAndGlyphs">o</tspan><tspan x="1344.05" textLength="23.85" lengthAdjust="spacingAndGlyphs">w</tspan><tspan x="1368.63" textLength="18.13" lengthAdjust="spacingAndGlyphs">n</tspan> <tspan x="1394.78" textLength="18.16" lengthAdjust="spacingAndGlyphs">h</tspan><tspan x="1412.71" textLength="17.87" lengthAdjust="spacingAndGlyphs">e</tspan><tspan x="1429.60" textLength="16.08" lengthAdjust="spacingAndGlyphs">a</tspan><tspan x="1447.31" textLength="7.27" lengthAdjust="spacingAndGlyphs">l</tspan><tspan x="1456.10" textLength="9.09" lengthAdjust="spacingAndGlyphs">t</tspan><tspan x="1466.78" textLength="18.16" lengthAdjust="spacingAndGlyphs">h</tspan></text>
<text y="881.90" font-size="32.20"><tspan x="898.31" textLength="28.46" lengthAdjust="spacingAndGlyphs">M</tspan><tspan x="927.44" textLength="18.32" lengthAdjust="spacingAndGlyphs">o</tspan><tspan x="946.01" textLength="18.04" lengthAdjust="spacingAndGlyphs">n</tspan><tspan x="964.45" textLength="7.20" lengthAdjust="spacingAndGlyphs">i</tspan><tspan x="973.25" textLength="9.01" lengthAdjust="spacingAndGlyphs">t</tspan><tspan x="983.74" textLength="18.32" lengthAdjust="spacingAndGlyphs">o</tspan><tspan x="1002.72" textLength="10.79" lengthAdjust="spacingAndGlyphs">r</tspan><tspan x="1014.59" textLength="7.20" lengthAdjust="spacingAndGlyphs">i</tspan><tspan x="1022.44" textLength="18.04" lengthAdjust="spacingAndGlyphs">n</tspan><tspan x="1040.24" textLength="18.09" lengthAdjust="spacingAndGlyphs">g</tspan> <tspan x="1064.77" textLength="18.32" lengthAdjust="spacingAndGlyphs">o</tspan><tspan x="1083.34" textLength="18.04" lengthAdjust="spacingAndGlyphs">n</tspan> <tspan x="1109.63" textLength="18.03" lengthAdjust="spacingAndGlyphs">b</tspan><tspan x="1127.37" textLength="17.78" lengthAdjust="spacingAndGlyphs">e</tspan><tspan x="1145.07" textLength="18.07" lengthAdjust="spacingAndGlyphs">h</tspan><tspan x="1162.54" textLength="15.99" lengthAdjust="spacingAndGlyphs">a</tspan><tspan x="1179.84" textLength="15.74" lengthAdjust="spacingAndGlyphs">v</tspan><tspan x="1195.94" textLength="7.20" lengthAdjust="spacingAndGlyphs">i</tspan><tspan x="1203.58" textLength="18.32" lengthAdjust="spacingAndGlyphs">o</tspan><tspan x="1221.94" textLength="18.04" lengthAdjust="spacingAndGlyphs">u</tspan><tspan x="1240.84" textLength="10.79" lengthAdjust="spacingAndGlyphs">r</tspan><tspan x="1251.72" textLength="15.99" lengthAdjust="spacingAndGlyphs">a</tspan><tspan x="1269.40" textLength="7.20" lengthAdjust="spacingAndGlyphs">l</tspan> <tspan x="1284.46" textLength="15.55" lengthAdjust="spacingAndGlyphs">c</tspan><tspan x="1299.79" textLength="18.07" lengthAdjust="spacingAndGlyphs">h</tspan><tspan x="1317.26" textLength="15.99" lengthAdjust="spacingAndGlyphs">a</tspan><tspan x="1334.79" textLength="18.04" lengthAdjust="spacingAndGlyphs">n</tspan><tspan x="1352.60" textLength="18.09" lengthAdjust="spacingAndGlyphs">g</tspan><tspan x="1369.05" textLength="17.78" lengthAdjust="spacingAndGlyphs">e</tspan></text>
<text y="1113.60" font-size="37.80" font-weight="bold"><tspan x="952.14" textLength="10.17" lengthAdjust="spacingAndGlyphs">I</tspan><tspan x="962.89" textLength="32.84" lengthAdjust="spacingAndGlyphs">m</tspan><tspan x="995.75" textLength="22.18" lengthAdjust="spacingAndGlyphs">p</tspan><tspan x="1017.46" textLength="14.50" lengthAdjust="spacingAndGlyphs">r</tspan><tspan x="1031.89" textLength="22.32" lengthAdjust="spacingAndGlyphs">o</tspan><tspan x="1053.77" textLength="19.73" lengthAdjust="spacingAndGlyphs">v</tspan><tspan x="1073.15" textLength="20.55" lengthAdjust="spacingAndGlyphs">e</tspan><tspan x="1093.44" textLength="22.17" lengthAdjust="spacingAndGlyphs">d</tspan> <tspan x="1124.74" textLength="12.56" lengthAdjust="spacingAndGlyphs">f</tspan><tspan x="1137.47" textLength="22.09" lengthAdjust="spacingAndGlyphs">u</tspan><tspan x="1159.52" textLength="22.09" lengthAdjust="spacingAndGlyphs">n</tspan><tspan x="1180.59" textLength="18.98" lengthAdjust="spacingAndGlyphs">c</tspan><tspan x="1198.80" textLength="13.15" lengthAdjust="spacingAndGlyphs">t</tspan><tspan x="1212.45" textLength="10.17" lengthAdjust="spacingAndGlyphs">i</tspan><tspan x="1222.33" textLength="22.32" lengthAdjust="spacingAndGlyphs">o</tspan><tspan x="1244.41" textLength="22.09" lengthAdjust="spacingAndGlyphs">n</tspan><tspan x="1266.18" textLength="10.17" lengthAdjust="spacingAndGlyphs">i</tspan><tspan x="1276.26" textLength="22.09" lengthAdjust="spacingAndGlyphs">n</tspan><tspan x="1297.47" textLength="22.07" lengthAdjust="spacingAndGlyphs">g</tspan></text>
</svg>
</body></html>
